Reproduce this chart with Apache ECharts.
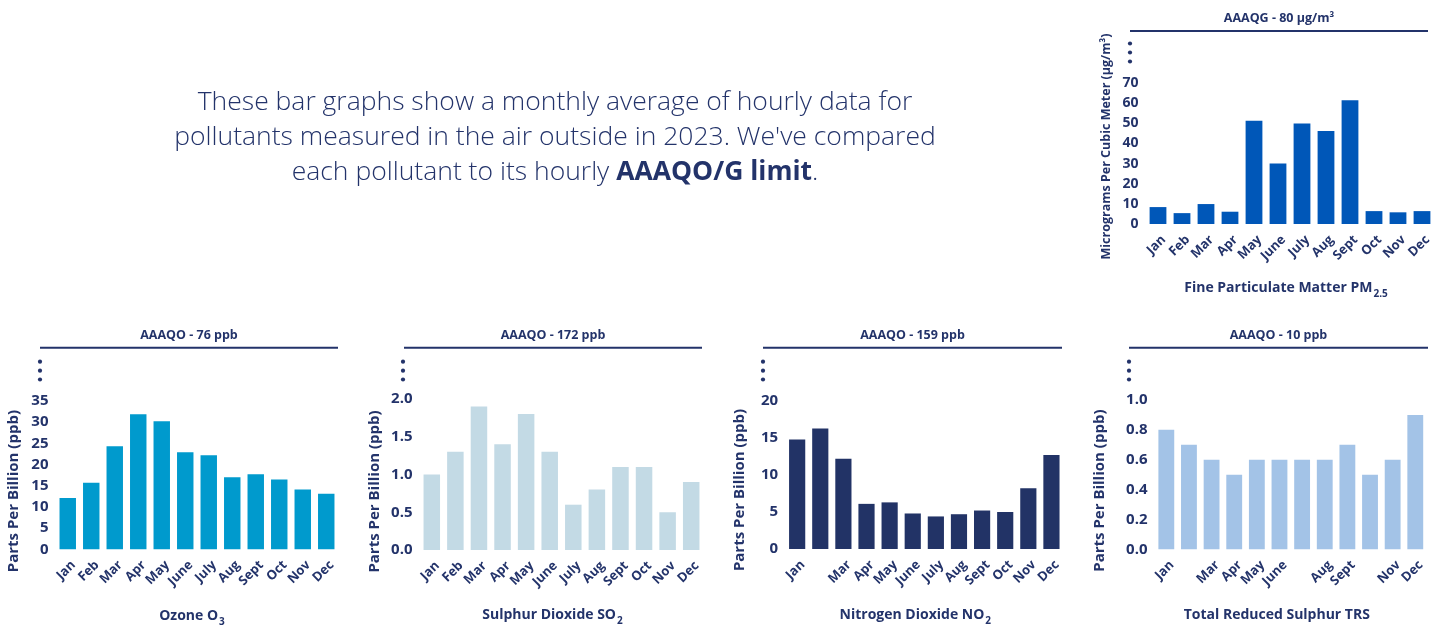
<!DOCTYPE html>
<html><head><meta charset="utf-8">
<script src="https://cdn.jsdelivr.net/npm/echarts@6/dist/echarts.min.js"></script>
<style>html,body{margin:0;padding:0;background:#fff}#c{width:1441px;height:628px}</style>
</head><body><div id="c"></div>
<script>
// ---------- data ----------
const months = ['Jan','Feb','Mar','Apr','May','June','July','Aug','Sept','Oct','Nov','Dec'];
const pm25Values  = [8.4, 5.4, 9.9, 6.1, 51.3, 30.0, 49.9, 46.2, 61.4, 6.4, 5.8, 6.4];
const ozoneValues = [12.1, 15.7, 24.3, 31.9, 30.2, 22.9, 22.2, 17.0, 17.7, 16.5, 14.1, 13.1];
const so2Values   = [1.0, 1.3, 1.9, 1.4, 1.8, 1.3, 0.6, 0.8, 1.1, 1.1, 0.5, 0.9];
const no2Values   = [14.8, 16.3, 12.2, 6.1, 6.3, 4.8, 4.4, 4.7, 5.2, 5.0, 8.2, 12.7];
const trsValues   = [0.8, 0.7, 0.6, 0.5, 0.6, 0.6, 0.6, 0.6, 0.7, 0.5, 0.6, 0.9];

const pm25XLabels  = months;
const ozoneXLabels = months;
const so2XLabels   = months;
const no2XLabels   = ['Jan','','Mar','Apr','May','June','July','Aug','Sept','Oct','Nov','Dec'];
const trsXLabels   = ['Jan','','Mar','Apr','May','June','','Aug','Sept','','Nov','Dec'];

const pm25YTicks  = [0, 10, 20, 30, 40, 50, 60, 70];
const ozoneYTicks = [0, 5, 10, 15, 20, 25, 30, 35];
const so2YTicks   = [0, 0.5, 1.0, 1.5, 2.0];
const no2YTicks   = [0, 5, 10, 15, 20];
const trsYTicks   = [0, 0.2, 0.4, 0.6, 0.8, 1.0];

const limitTexts = ['AAAQG - 80 µg/m³', 'AAAQO - 76 ppb', 'AAAQO - 172 ppb', 'AAAQO - 159 ppb', 'AAAQO - 10 ppb'];
const yNames = ['Micrograms Per Cubic Meter (µg/m³)', 'Parts Per Billion (ppb)', 'Parts Per Billion (ppb)', 'Parts Per Billion (ppb)', 'Parts Per Billion (ppb)'];
const xNames = [['Fine Particulate Matter PM', '2.5'], ['Ozone O', '3'], ['Sulphur Dioxide SO', '2'], ['Nitrogen Dioxide NO', '2'], ['Total Reduced Sulphur TRS', '']];
const introLines = ['These bar graphs show a monthly average of hourly data for', 'pollutants measured in the air outside in 2023. We\'ve compared', 'each pollutant to its hourly '];
const introBold = 'AAAQO/G limit';

// ---------- styling / layout ----------
const NAVY = '#23336a';
const FONT = '"Open Sans", "Noto Sans", sans-serif';
const panels = [
  {values: pm25Values, xl: pm25XLabels, yt: pm25YTicks, color: '#0057b8',
   g: {left: 1146, top: 83, width: 288, height: 141}, yFont: 14, yNameFont: 12.5, yNameGap: 33, yShift: -7, xNameGap: 51, xShift: 4,
   line: [1130, 1428, 31], dotsX: 1130, dotsY: [43.5, 52.5, 61.5], titleY: 18},
  {values: ozoneValues, xl: ozoneXLabels, yt: ozoneYTicks, color: '#009acd',
   g: {left: 56, top: 401, width: 282, height: 148.3}, yFont: 15, yNameFont: 15, yNameGap: 35, yShift: 16, xNameGap: 54, xShift: 5,
   line: [40, 338, 347.7], dotsX: 40, dotsY: [361.7, 370.7, 379.5], titleY: 335},
  {values: so2Values, xl: so2XLabels, yt: so2YTicks, color: '#c3dae5',
   g: {left: 420, top: 399, width: 283, height: 151}, yFont: 15, yNameFont: 15, yNameGap: 38, yShift: 17, xNameGap: 52, xShift: 9,
   line: [404, 702, 347.7], dotsX: 403, dotsY: [361.7, 370.7, 379.5], titleY: 335},
  {values: no2Values, xl: no2XLabels, yt: no2YTicks, color: '#223366',
   g: {left: 785.6, top: 401, width: 277.4, height: 148}, yFont: 15, yNameFont: 15, yNameGap: 38, yShift: 15, xNameGap: 53, xShift: 9,
   line: [763, 1062, 347.7], dotsX: 763, dotsY: [361.7, 370.7, 379.5], titleY: 335},
  {values: trsValues, xl: trsXLabels, yt: trsYTicks, color: '#a3c3e7',
   g: {left: 1155, top: 400, width: 271.6, height: 149.3}, yFont: 15, yNameFont: 15, yNameGap: 47.5, yShift: 16, xNameGap: 53, xShift: 14,
   line: [1129, 1428, 347.7], dotsX: 1129, dotsY: [361.7, 370.7, 379.5], titleY: 335}
];

const grid = [], xAxis = [], yAxis = [], series = [], graphic = [];
panels.forEach((p, i) => {
  grid.push(Object.assign({outerBoundsMode: 'none', containLabel: false}, p.g));
  const yt = p.yt;
  const isDecimal = yt.some(v => v % 1 !== 0);
  xAxis.push({
    type: 'category', gridIndex: i, data: months,
    axisLine: {show: false}, axisTick: {show: false},
    axisLabel: {interval: 0, rotate: 45, margin: 8, verticalAlign: 'top', lineHeight: 16,
                color: NAVY, fontFamily: FONT, fontWeight: 'bold', fontSize: 13,
                formatter: (v, idx) => p.xl[idx]},
    name: '{n|' + xNames[i][0] + '}' + (xNames[i][1] ? '{s|' + xNames[i][1] + '}' : ''),
    nameLocation: 'middle', nameGap: p.xNameGap,
    nameTextStyle: {padding: [0, p.xShift * 2, 0, 0],
      rich: {n: {fontSize: 14, fontWeight: 'bold', color: NAVY, fontFamily: FONT, lineHeight: 26},
             s: {fontSize: 10, fontWeight: 'bold', color: NAVY, fontFamily: FONT, lineHeight: 14, padding: [12, 0, 0, 1]}}}
  });
  yAxis.push({
    type: 'value', gridIndex: i, min: yt[0], max: yt[yt.length - 1], interval: yt[1] - yt[0],
    splitLine: {show: false}, axisLine: {show: false}, axisTick: {show: false},
    axisLabel: {margin: 7.5, color: NAVY, fontFamily: FONT, fontWeight: 'bold', fontSize: p.yFont,
                formatter: v => isDecimal ? v.toFixed(1) : String(v)},
    name: yNames[i], nameLocation: 'middle', nameGap: p.yNameGap,
    nameTextStyle: {color: NAVY, fontFamily: FONT, fontWeight: 'bold', fontSize: p.yNameFont,
      padding: p.yShift >= 0 ? [0, p.yShift * 2, 0, 0] : [0, 0, 0, -p.yShift * 2]}
  });
  series.push({
    type: 'bar', xAxisIndex: i, yAxisIndex: i, data: p.values, barCategoryGap: '30%',
    itemStyle: {color: p.color}, silent: true, animation: false
  });
  graphic.push({type: 'line', shape: {x1: p.line[0], y1: p.line[2], x2: p.line[1], y2: p.line[2]},
                style: {stroke: NAVY, lineWidth: 2}, silent: true});
  p.dotsY.forEach(cy => graphic.push({type: 'circle', shape: {cx: p.dotsX, cy: cy, r: 2.1}, style: {fill: NAVY}, silent: true}));
  graphic.push({type: 'text', x: (p.line[0] + p.line[1]) / 2, y: p.titleY,
                style: {text: limitTexts[i], align: 'center', verticalAlign: 'middle', fill: NAVY,
                        fontFamily: FONT, fontWeight: 'bold', fontSize: 12.5}, silent: true});
});

graphic.push({type: 'text', x: 555, y: 137,
  style: {
    text: '{n|' + introLines[0] + '}\n{n|' + introLines[1] + '}\n{n|' + introLines[2] + '}{b|' + introBold + '}{n|.}',
    align: 'center', verticalAlign: 'middle',
    rich: {n: {fontSize: 26.5, fontWeight: 300, fontFamily: FONT, fill: NAVY, lineHeight: 35},
           b: {fontSize: 26.5, fontWeight: 'bold', fontFamily: FONT, fill: NAVY, lineHeight: 35}}
  }, silent: true});

const chart = echarts.init(document.getElementById('c'), null, {renderer: 'canvas'});
chart.setOption({animation: false, backgroundColor: '#ffffff', grid, xAxis, yAxis, series, graphic});
</script></body></html>
